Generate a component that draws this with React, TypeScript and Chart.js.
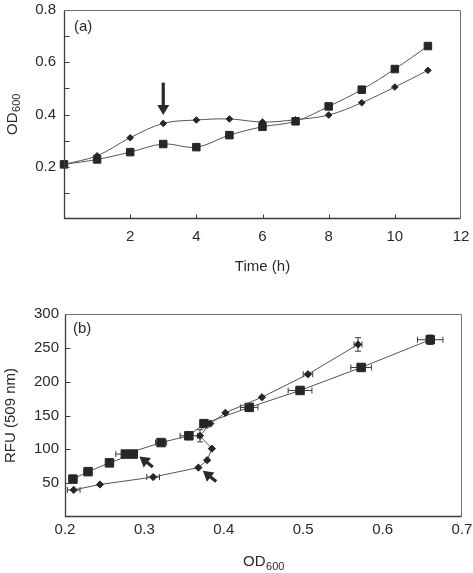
import React, { useEffect, useRef } from 'react';
import { Chart, registerables } from 'chart.js';

Chart.register(...registerables);

// ---------- Panel (a): OD600 vs time ----------
const timeH = [0, 1, 2, 3, 4, 5, 6, 7, 8, 9, 10, 11];
const odDiamondA = [0.209, 0.242, 0.311, 0.366, 0.379, 0.383, 0.371, 0.380, 0.398, 0.445, 0.505, 0.569];
const odSquareA = [0.209, 0.228, 0.256, 0.287, 0.275, 0.321, 0.353, 0.374, 0.431, 0.495, 0.574, 0.662];
const odSquareAErr = [0, 0, 0, 0, 0, 0, 0, 0, 0, 0.008, 0.007, 0.009];
const yLabelsA = [0.2, 0.4, 0.6, 0.8];
const arrowATail = [3, 0.522];
const arrowATip = [3, 0.398];

// ---------- Panel (b): RFU vs OD600 ----------
const odDiamondB = [0.211, 0.244, 0.311, 0.368, 0.379, 0.385, 0.370, 0.383, 0.402, 0.448, 0.506, 0.569];
const rfuDiamondB = [40, 48, 59, 73, 84, 101, 120, 138, 154, 177, 211, 255];
const odDiamondBErr = [0.008, 0, 0.008, 0, 0, 0, 0, 0, 0, 0, 0.006, 0.005];
const rfuDiamondBErr = [0, 0, 0, 0, 0, 0, 9, 0, 0, 0, 0, 10];
const odSquareB = [0.210, 0.229, 0.256, 0.286, 0.276, 0.321, 0.356, 0.375, 0.432, 0.496, 0.573, 0.660];
const rfuSquareB = [56, 67, 80, 93, 93, 110, 120, 138, 162, 187, 221, 262];
const odSquareBErr = [0, 0, 0, 0, 0.012, 0.007, 0.011, 0, 0.011, 0.015, 0.013, 0.016];
const rfuSquareBErr = [0, 0, 0, 0, 0, 0, 0, 0, 0, 4, 3, 7];
const arrowBTails = [[0.3106, 74], [0.3905, 52.4]];
const arrowBTips = [[0.2937, 89.3], [0.3736, 68.2]];

const FONT = '"Liberation Sans", Arial, Helvetica, sans-serif';
const TEXT = '#2a2a2a';
const LINE = '#555';
const MARK = '#262626';

type DecorOpts = {
  label: string;
  labelDx: number;
  labelDy: number;
  tickLen: number;
  xTicks: boolean;
  tails: number[][];
  tips: number[][];
  subTitle: { axis: 'x' | 'y'; main: string; sub: string; base: number };
};

function zeroPad(s: any) {
  s.paddingTop = 0;
  s.paddingBottom = 0;
  s.paddingLeft = 0;
  s.paddingRight = 0;
}

function decor(o: DecorOpts) {
  return {
    id: 'decor',
    beforeDatasetsDraw(chart: any) {
      const { ctx, scales } = chart;
      const xs = scales.x, ys = scales.y;
      ctx.save();
      ctx.strokeStyle = '#3a3a3a';
      ctx.lineWidth = 1;
      chart.data.datasets.forEach((ds: any, di: number) => {
        const meta = chart.getDatasetMeta(di);
        ds.data.forEach((p: any, i: number) => {
          const el = meta.data[i];
          if (!el) return;
          const cx = el.x, cy = el.y;
          const xe = ds.xErr ? ds.xErr[i] : 0;
          const ye = ds.yErr ? ds.yErr[i] : 0;
          const cap = 3;
          if (xe) {
            const x1 = xs.getPixelForValue(p.x - xe);
            const x2 = xs.getPixelForValue(p.x + xe);
            ctx.beginPath();
            ctx.moveTo(x1, cy); ctx.lineTo(x2, cy);
            ctx.moveTo(x1, cy - cap); ctx.lineTo(x1, cy + cap);
            ctx.moveTo(x2, cy - cap); ctx.lineTo(x2, cy + cap);
            ctx.stroke();
          }
          if (ye) {
            const y1 = ys.getPixelForValue(p.y - ye);
            const y2 = ys.getPixelForValue(p.y + ye);
            ctx.beginPath();
            ctx.moveTo(cx, y1); ctx.lineTo(cx, y2);
            ctx.moveTo(cx - cap, y1); ctx.lineTo(cx + cap, y1);
            ctx.moveTo(cx - cap, y2); ctx.lineTo(cx + cap, y2);
            ctx.stroke();
          }
        });
      });
      ctx.restore();
    },
    afterDraw(chart: any) {
      const { ctx, chartArea: a, scales } = chart;
      const xs = scales.x, ys = scales.y;
      const L = Math.round(a.left) + 0.5;
      const R = Math.round(a.right) - 0.5;
      const T = Math.round(a.top) + 0.5;
      const B = Math.round(a.bottom) - 0.5;
      ctx.save();
      // top & right frame
      ctx.strokeStyle = '#707070';
      ctx.lineWidth = 1;
      ctx.beginPath();
      ctx.moveTo(L, T); ctx.lineTo(R, T); ctx.lineTo(R, B);
      ctx.stroke();
      // axes
      ctx.strokeStyle = '#3c3c3c';
      ctx.lineWidth = 1.3;
      ctx.beginPath();
      ctx.moveTo(L, T); ctx.lineTo(L, B); ctx.lineTo(R, B);
      ctx.stroke();
      // inward ticks
      ctx.lineWidth = 1;
      ctx.beginPath();
      ys.ticks.forEach((t: any) => {
        if (t.value === ys.min || t.value === ys.max) return;
        const py = Math.round(ys.getPixelForValue(t.value)) + 0.5;
        ctx.moveTo(L, py); ctx.lineTo(L + o.tickLen, py);
      });
      if (o.xTicks) {
        xs.ticks.forEach((t: any) => {
          if (t.value === xs.min || t.value === xs.max) return;
          const px = Math.round(xs.getPixelForValue(t.value)) + 0.5;
          ctx.moveTo(px, B); ctx.lineTo(px, B - o.tickLen + 1);
        });
      }
      ctx.stroke();
      // panel label
      ctx.fillStyle = TEXT;
      ctx.font = '15px ' + FONT;
      ctx.textAlign = 'left';
      ctx.textBaseline = 'middle';
      ctx.fillText(o.label, a.left + o.labelDx, a.top + o.labelDy);
      // subscripted axis title
      const st = o.subTitle;
      ctx.textBaseline = 'alphabetic';
      ctx.font = '15px ' + FONT;
      const wm = ctx.measureText(st.main).width;
      ctx.font = '11px ' + FONT;
      const wsub = ctx.measureText(st.sub).width;
      const w = wm + wsub;
      ctx.save();
      if (st.axis === 'x') {
        ctx.translate((a.left + a.right) / 2, st.base);
      } else {
        ctx.translate(st.base, (a.top + a.bottom) / 2);
        ctx.rotate(-Math.PI / 2);
      }
      ctx.font = '15px ' + FONT;
      ctx.fillText(st.main, -w / 2, 0);
      ctx.font = '11px ' + FONT;
      ctx.fillText(st.sub, -w / 2 + wm + 0.5, 3.5);
      ctx.restore();
      // arrows
      ctx.fillStyle = '#2a2a2a';
      ctx.strokeStyle = '#2a2a2a';
      o.tails.forEach((tail, k) => {
        const tip = o.tips[k];
        const x0 = xs.getPixelForValue(tail[0]), y0 = ys.getPixelForValue(tail[1]);
        const x1 = xs.getPixelForValue(tip[0]), y1 = ys.getPixelForValue(tip[1]);
        const len = Math.hypot(x1 - x0, y1 - y0);
        const ux = (x1 - x0) / len, uy = (y1 - y0) / len;
        const headLen = 10, headHalf = 6;
        const bx = x1 - ux * headLen, by = y1 - uy * headLen;
        ctx.lineWidth = 3.2;
        ctx.beginPath();
        ctx.moveTo(x0, y0); ctx.lineTo(bx + ux, by + uy);
        ctx.stroke();
        ctx.beginPath();
        ctx.moveTo(x1, y1);
        ctx.lineTo(bx - uy * headHalf, by + ux * headHalf);
        ctx.lineTo(bx + uy * headHalf, by - ux * headHalf);
        ctx.closePath();
        ctx.fill();
      });
      ctx.restore();
    },
  };
}

const tickFont = { family: FONT, size: 15 };

function makeA(canvas: HTMLCanvasElement) {
  return new Chart(canvas, {
    type: 'scatter',
    data: {
      datasets: [
        {
          label: 'diamond',
          data: timeH.map((t, i) => ({ x: t, y: odDiamondA[i] })),
          showLine: true,
          tension: 0.35,
          borderColor: LINE,
          borderWidth: 1,
          pointStyle: 'rectRot',
          pointRadius: 3.3,
          pointBackgroundColor: MARK,
          pointBorderColor: MARK,
          pointBorderWidth: 1,
          clip: false,
        } as any,
        {
          label: 'square',
          data: timeH.map((t, i) => ({ x: t, y: odSquareA[i] })),
          yErr: odSquareAErr,
          showLine: true,
          tension: 0.35,
          borderColor: LINE,
          borderWidth: 1,
          pointStyle: 'rect',
          pointRadius: 5.3,
          pointBackgroundColor: MARK,
          pointBorderColor: MARK,
          pointBorderWidth: 1,
          clip: false,
        } as any,
      ],
    },
    options: {
      responsive: false,
      animation: false,
      events: [],
      layout: { autoPadding: false, padding: { top: 10, right: 12, left: 0, bottom: 0 } },
      plugins: { legend: { display: false }, tooltip: { enabled: false } },
      scales: {
        x: {
          type: 'linear',
          min: 0,
          max: 12,
          grid: { display: false, drawTicks: false },
          border: { display: false },
          ticks: {
            stepSize: 2,
            padding: 9,
            maxRotation: 0,
            autoSkip: false,
            color: TEXT,
            font: tickFont,
            callback: (v: any) => (v === 0 ? '' : String(v)),
          },
          title: { display: true, text: 'Time (h)', color: TEXT, font: tickFont, padding: { top: 0, bottom: 14 } },
          afterFit: (s: any) => { s.height = 71; zeroPad(s); },
        },
        y: {
          type: 'linear',
          min: 0,
          max: 0.8,
          grid: { display: false, drawTicks: false },
          border: { display: false },
          ticks: {
            stepSize: 0.1,
            padding: 8,
            autoSkip: false,
            color: TEXT,
            font: tickFont,
            callback: (v: any) => {
              const s = Number(v).toFixed(1);
              return yLabelsA.some((l) => l.toFixed(1) === s) ? s : '';
            },
          },
          title: { display: false },
          afterFit: (s: any) => { s.width = 64; zeroPad(s); },
        },
      },
    },
    plugins: [decor({
      label: '(a)', labelDx: 10, labelDy: 17, tickLen: 5, xTicks: true,
      tails: [arrowATail], tips: [arrowATip],
      subTitle: { axis: 'y', main: 'OD', sub: '600', base: 16.5 },
    })],
  } as any);
}

function makeB(canvas: HTMLCanvasElement) {
  return new Chart(canvas, {
    type: 'scatter',
    data: {
      datasets: [
        {
          label: 'diamond',
          data: odDiamondB.map((x, i) => ({ x, y: rfuDiamondB[i] })),
          xErr: odDiamondBErr,
          yErr: rfuDiamondBErr,
          showLine: true,
          tension: 0,
          borderColor: LINE,
          borderWidth: 1,
          pointStyle: 'rectRot',
          pointRadius: 3.6,
          pointBackgroundColor: MARK,
          pointBorderColor: MARK,
          pointBorderWidth: 1,
          clip: false,
        } as any,
        {
          label: 'square',
          data: odSquareB.map((x, i) => ({ x, y: rfuSquareB[i] })),
          xErr: odSquareBErr,
          yErr: rfuSquareBErr,
          showLine: true,
          tension: 0,
          borderColor: LINE,
          borderWidth: 1,
          pointStyle: 'rect',
          pointRadius: 6,
          pointBackgroundColor: MARK,
          pointBorderColor: MARK,
          pointBorderWidth: 1,
          clip: false,
        } as any,
      ],
    },
    options: {
      responsive: false,
      animation: false,
      events: [],
      layout: { autoPadding: false, padding: { top: 24, right: 11, left: 0, bottom: 0 } },
      plugins: { legend: { display: false }, tooltip: { enabled: false } },
      scales: {
        x: {
          type: 'linear',
          min: 0.2,
          max: 0.7,
          grid: { display: false, drawTicks: false },
          border: { display: false },
          ticks: {
            stepSize: 0.1,
            padding: 4,
            maxRotation: 0,
            autoSkip: false,
            color: TEXT,
            font: tickFont,
            callback: (v: any) => Number(v).toFixed(1),
          },
          title: { display: false },
          afterFit: (s: any) => { s.height = 56; zeroPad(s); },
        },
        y: {
          type: 'linear',
          min: 0,
          max: 300,
          grid: { display: false, drawTicks: false },
          border: { display: false },
          ticks: {
            stepSize: 50,
            padding: 6,
            autoSkip: false,
            color: TEXT,
            font: tickFont,
            callback: (v: any) => (v === 0 ? '' : String(v)),
          },
          title: { display: true, text: 'RFU (509 nm)', color: TEXT, font: tickFont, padding: { top: 2, bottom: 0 } },
          afterFit: (s: any) => { s.width = 65; zeroPad(s); },
        },
      },
    },
    plugins: [decor({
      label: '(b)', labelDx: 8, labelDy: 15, tickLen: 5, xTicks: false,
      tails: arrowBTails, tips: arrowBTips,
      subTitle: { axis: 'x', main: 'OD', sub: '600', base: 276 },
    })],
  } as any);
}

export default function App() {
  const refA = useRef<HTMLCanvasElement>(null);
  const refB = useRef<HTMLCanvasElement>(null);
  useEffect(() => {
    const a = makeA(refA.current!);
    const b = makeB(refB.current!);
    return () => {
      a.destroy();
      b.destroy();
    };
  }, []);
  return (
    <div style={{ position: 'absolute', left: 0, top: 0, width: 473, height: 573, background: '#fff' }}>
      <canvas ref={refA} width={473} height={290} style={{ position: 'absolute', left: 0, top: 0, width: 473, height: 290 }} />
      <canvas ref={refB} width={473} height={283} style={{ position: 'absolute', left: 0, top: 290, width: 473, height: 283 }} />
    </div>
  );
}
